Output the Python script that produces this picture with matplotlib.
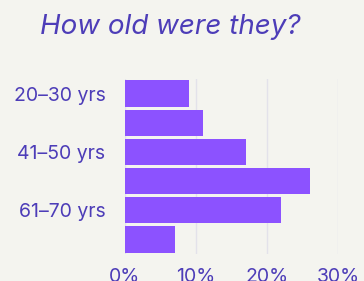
import matplotlib.pyplot as plt

# age groups and share of people (%)
age_groups = ["20–30 yrs", "31–40 yrs", "41–50 yrs", "51–60 yrs", "61–70 yrs", "71–80 yrs"]
shares = [9, 11, 17, 26, 22, 7]
x_ticks = [0, 10, 20, 30]
x_tick_labels = ["0%", "10%", "20%", "30%"]

bg = "#F4F4EF"
bar_color = "#8C52FF"
text_color = "#4D3DB8"

plt.rcParams["font.family"] = ["Inter", "DejaVu Sans"]

fig = plt.figure(figsize=(3.64, 2.81), dpi=100, facecolor=bg)
ax = fig.add_axes([0.343, 0.096, 0.586, 0.623], facecolor=bg)

pos = list(range(len(age_groups)))
ax.barh(pos, shares, height=0.9, color=bar_color, zorder=3)

ax.set_xlim(0, 30)
ax.set_ylim(len(age_groups) - 0.5, -0.5)
ax.set_xticks(x_ticks)
ax.set_xticklabels(x_tick_labels)
ax.set_yticks(pos)
# only every other label is shown
ax.set_yticklabels([lab if i % 2 == 0 else "" for i, lab in enumerate(age_groups)])

ax.grid(axis="x", color="#E3E2EA", linewidth=1, zorder=0)
for s in ax.spines.values():
    s.set_visible(False)
ax.tick_params(axis="both", length=0, labelsize=14, labelcolor=text_color)
ax.tick_params(axis="x", pad=10)
ax.tick_params(axis="y", pad=14)

fig.text(0.11, 0.905, "How old were they?", fontsize=20, style="italic",
         color=text_color, va="center", ha="left")

fig.savefig("out.png", dpi=100, facecolor=bg)
